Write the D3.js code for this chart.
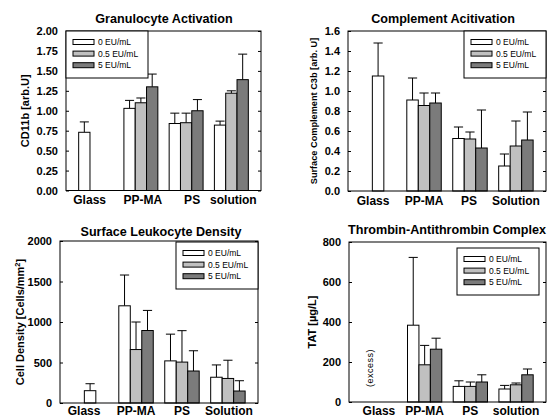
<!DOCTYPE html>
<html><head><meta charset="utf-8">
<script src="https://cdn.jsdelivr.net/npm/d3@7"></script>
<style>
html,body{margin:0;padding:0;background:#fff;}
svg{display:block;font-family:"Liberation Sans",Arial,sans-serif;}
</style></head>
<body><svg id="chart" width="560" height="417"></svg>
<script>
// ---------- DATA ----------
const seriesNames = ["0 EU/mL", "0.5 EU/mL", "5 EU/mL"];
const categoriesLower = ["Glass", "PP-MA", "PS", "solution"];
const categoriesUpper = ["Glass", "PP-MA", "PS", "Solution"];

// Granulocyte Activation (CD11b, arb.U): bar means and upper error-bar ends
const granMean = [[0.73, null, null], [1.03, 1.10, 1.30], [0.84, 0.85, 1.00], [0.82, 1.22, 1.39]];
const granErr  = [[0.86, null, null], [1.13, 1.16, 1.46], [0.97, 0.97, 1.14], [0.87, 1.25, 1.71]];
const granTicks = [0, 0.25, 0.5, 0.75, 1.0, 1.25, 1.5, 1.75, 2.0];

// Complement Activation (C3b, arb. U)
const compMean = [[1.15, null, null], [0.91, 0.855, 0.88], [0.525, 0.52, 0.43], [0.25, 0.45, 0.51]];
const compErr  = [[1.48, null, null], [1.13, 0.98, 0.98], [0.64, 0.59, 0.81], [0.37, 0.70, 0.79]];
const compTicks = [0, 0.2, 0.4, 0.6, 0.8, 1.0, 1.2, 1.4, 1.6];

// Surface Leukocyte Density (cells/mm^2)
const leukMean = [[152, null, null], [1200, 660, 895], [520, 505, 395], [318, 303, 148]];
const leukErr  = [[238, null, null], [1580, 1000, 1143], [850, 893, 645], [470, 528, 275]];
const leukTicks = [0, 500, 1000, 1500, 2000];

// Thrombin-Antithrombin Complex (µg/L); Glass = excess (no bar)
const tatMean = [[null, null, null], [384, 186, 264], [78, 78, 100], [65, 86, 136]];
const tatErr  = [[null, null, null], [723, 283, 319], [106, 100, 136], [83, 95, 165]];
const tatTicks = [0, 200, 400, 600, 800];

// ---------- STYLE ----------
const fills = ["#ffffff", "#c0c0c0", "#7b7b7b"];
const FONT = "Liberation Sans, Arial, sans-serif";
const svg = d3.select("#chart");
svg.append("rect").attr("width", 560).attr("height", 417).attr("fill", "#fff");

function panel(o) {
  const g = svg.append("g");
  const {x0, x1, y0, y1} = o.frame;
  const x = d3.scaleBand().domain(o.categories).range([x0, x1])
    .paddingInner(0.25).paddingOuter(0.28);
  const sub = d3.scaleBand().domain([0, 1, 2]).range([0, x.bandwidth()]);
  const y = d3.scaleLinear().domain(o.domain).range([y1, y0]);

  // bars
  o.categories.forEach((c, ci) => {
    o.mean[ci].forEach((v, si) => {
      if (v == null) return;
      const slot = (ci === 0) ? o.glassSlot : si;
      const bx = x(c) + sub(slot);
      const bw = sub.bandwidth();
      const top = o.err[ci][si];
      const cx = bx + bw / 2;
      const cap = bw * 0.8;
      g.append("line").attr("x1", cx).attr("x2", cx)
        .attr("y1", y(v)).attr("y2", y(top)).attr("stroke", "#000").attr("stroke-width", 1);
      g.append("line").attr("x1", cx - cap / 2).attr("x2", cx + cap / 2)
        .attr("y1", y(top)).attr("y2", y(top)).attr("stroke", "#000").attr("stroke-width", 1);
      g.append("rect").attr("x", bx).attr("y", y(v)).attr("width", bw)
        .attr("height", y(0) - y(v)).attr("fill", fills[si]).attr("stroke", "#000").attr("stroke-width", 1);
    });
  });

  // left axis with inward ticks
  const left = d3.axisLeft(y).tickValues(o.ticks).tickFormat(d3.format(o.fmt)).tickSize(-3).tickPadding(8);
  const la = g.append("g").attr("transform", `translate(${x0},0)`).call(left);
  la.select(".domain").remove();
  la.selectAll("text").attr("font-size", 11).attr("font-weight", "bold")
    .attr("font-family", FONT).attr("fill", "#000");
  la.selectAll("line").attr("stroke", "#000");
  const right = d3.axisRight(y).tickValues(o.ticks).tickFormat("").tickSize(-3);
  const ra = g.append("g").attr("transform", `translate(${x1},0)`).call(right);
  ra.select(".domain").remove();
  ra.selectAll("line").attr("stroke", "#000");

  // frame
  g.append("rect").attr("x", x0).attr("y", y0).attr("width", x1 - x0).attr("height", y1 - y0)
    .attr("fill", "none").attr("stroke", "#000").attr("stroke-width", 1);

  // category labels
  const bottom = d3.axisBottom(x).tickSize(0).tickPadding(0);
  const ba = g.append("g").attr("transform", `translate(0,${y1})`).call(bottom);
  ba.select(".domain").remove();
  ba.selectAll("text").attr("font-size", 12).attr("font-weight", "bold")
    .attr("font-family", FONT).attr("fill", "#000")
    .attr("dy", null).attr("y", o.labelY)
    .attr("x", (d, i) => o.labelDx[i]);

  // title
  g.append("text").attr("x", o.titleX).attr("y", o.titleY).attr("text-anchor", "middle")
    .attr("font-size", 12.6).attr("font-weight", "bold").text(o.title);

  // y label
  const yl = g.append("text").attr("transform", `translate(${o.ylabX},${(y0 + y1) / 2}) rotate(-90)`)
    .attr("text-anchor", "middle").attr("font-size", o.ylabFont).attr("font-weight", "bold");
  o.ylab(yl);

  // legend
  const L = o.legend;
  const lg = g.append("g").attr("transform", `translate(${L.x},${L.y})`);
  lg.append("rect").attr("width", 82).attr("height", 47).attr("fill", "#fff")
    .attr("stroke", "#000").attr("stroke-width", 1);
  seriesNames.forEach((s, i) => {
    const ry = 11 + i * 11.6;
    lg.append("rect").attr("x", 7).attr("y", ry - 2.5).attr("width", 21).attr("height", 5)
      .attr("fill", fills[i]).attr("stroke", "#000").attr("stroke-width", 1);
    lg.append("text").attr("x", 32).attr("y", ry + 3).attr("font-size", 8.5).text(s);
  });

  return {x, sub, y, g};
}

panel({
  frame: {x0: 66, x1: 261, y0: 31, y1: 190.5},
  categories: categoriesLower, mean: granMean, err: granErr, glassSlot: 0,
  labelDx: [-6, 2, 6, 2], labelY: 13.8,
  domain: [0, 2], ticks: granTicks, fmt: ".2f",
  title: "Granulocyte Activation", titleX: 164, titleY: 23,
  ylabX: 29, ylabFont: 11,
  ylab: t => t.text("CD11b [arb.U]"),
  legend: {x: 66, y: 31}
});

panel({
  frame: {x0: 348, x1: 546, y0: 31, y1: 191},
  categories: categoriesUpper, mean: compMean, err: compErr, glassSlot: 1,
  labelDx: [-5, 0, -1, 0], labelY: 13.8,
  domain: [0, 1.6], ticks: compTicks, fmt: ".1f",
  title: "Complement Acitivation", titleX: 443, titleY: 23,
  ylabX: 317, ylabFont: 9.2,
  ylab: t => t.text("Surface Complement C3b [arb. U]"),
  legend: {x: 464, y: 31}
});

panel({
  frame: {x0: 60, x1: 258, y0: 241, y1: 403},
  categories: categoriesUpper, mean: leukMean, err: leukErr, glassSlot: 1,
  labelDx: [-6, 0, 0, 1], labelY: 11.5,
  domain: [0, 2000], ticks: leukTicks, fmt: "d",
  title: "Surface Leukocyte Density", titleX: 161, titleY: 236,
  ylabX: 24, ylabFont: 11,
  ylab: t => {
    t.append("tspan").text("Cell Density [Cells/mm");
    t.append("tspan").attr("dy", -4).attr("font-size", 7.5).text("2");
    t.append("tspan").attr("dy", 4).text("]");
  },
  legend: {x: 176, y: 242}
});

const p4 = panel({
  frame: {x0: 349, x1: 546, y0: 242, y1: 402},
  categories: categoriesLower, mean: tatMean, err: tatErr, glassSlot: 0,
  labelDx: [0, 0, 0, 0], labelY: 12.5,
  domain: [0, 800], ticks: tatTicks, fmt: "d",
  title: "Thrombin-Antithrombin Complex", titleX: 447, titleY: 234,
  ylabX: 316, ylabFont: 11,
  ylab: t => t.text("TAT [µg/L]"),
  legend: {x: 457, y: 248}
});
// "(excess)" note for Glass in TAT panel
{
  const cx = p4.x("Glass") + p4.sub(0) + p4.sub.bandwidth() / 2 + 2;
  p4.g.append("text").attr("transform", `translate(${cx + 3},${p4.y(170)}) rotate(-90)`)
    .attr("text-anchor", "middle").attr("font-size", 9).attr("letter-spacing", 0.5).text("(excess)");
}
</script></body></html>
